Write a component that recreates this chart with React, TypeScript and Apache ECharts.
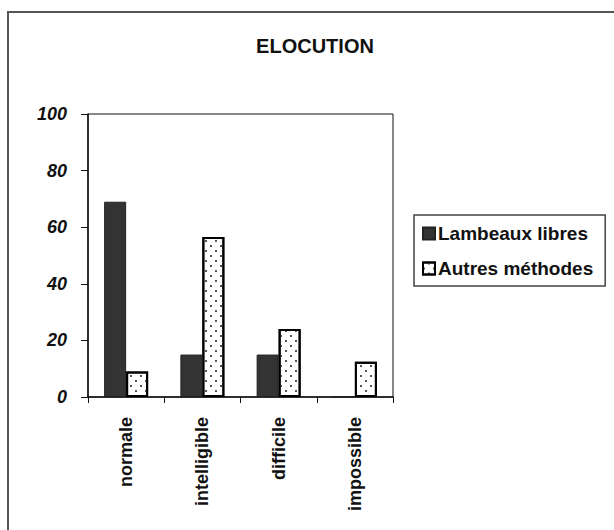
import React, { useEffect, useRef } from "react";
import * as echarts from "echarts";

const categories = ["normale", "intelligible", "difficile", "impossible"];
const lambeauxLibres = [69, 15, 15, 0];
const autresMethodes = [9, 56.5, 24, 12.5];
const yTicks = { min: 0, max: 100, interval: 20 };
const titleText = "ELOCUTION";
const seriesNames = ["Lambeaux libres", "Autres méthodes"];

const FONT = "'Liberation Sans', Arial, sans-serif";

export default function App() {
  const ref = useRef<HTMLDivElement>(null);
  useEffect(() => {
    if (!ref.current) return;
    const chart = echarts.init(ref.current, null, { renderer: "svg" });
    const decal = {
      symbol: "rect",
      symbolSize: 1,
      color: "#555",
      dashArrayX: [[2, 8], [0, 5, 2, 3]],
      dashArrayY: [2, 3],
      rotation: 0,
    };
    chart.setOption({
      animation: false,
      backgroundColor: "#fff",
      graphic: [
        {
          type: "rect",
          shape: { x: 8, y: 12, width: 640, height: 560 },
          style: { fill: "none", stroke: "#555", lineWidth: 2 },
          silent: true,
        },
        {
          type: "text",
          x: 315,
          y: 46,
          style: {
            text: titleText,
            font: `bold 20px ${FONT}`,
            fill: "#111",
            textAlign: "center",
            textVerticalAlign: "middle",
          },
        },
      ],
      legend: {
        orient: "vertical",
        left: 414,
        top: 215,
        padding: [9, 12, 8, 8],
        itemGap: 16,
        itemWidth: 12,
        itemHeight: 12,
        borderColor: "#444",
        borderWidth: 1.5,
        borderRadius: 0,
        icon: "rect",
        textStyle: { fontFamily: FONT, fontWeight: "bold", fontSize: 19, color: "#111", padding: [0, 0, 0, -2] },
        data: [
          { name: seriesNames[0] },
          { name: seriesNames[1] },
        ],
      },
      grid: {
        left: 88,
        top: 114,
        right: 221,
        bottom: 133,
        show: true,
        borderColor: "#111",
        borderWidth: 1,
        backgroundColor: "transparent",
      },
      xAxis: {
        type: "category",
        data: categories,
        axisLine: { lineStyle: { color: "#111", width: 1.5 } },
        axisTick: { show: true, length: 6, lineStyle: { color: "#111" } },
        axisLabel: {
          rotate: 90,
          margin: 20,
          fontFamily: FONT,
          fontWeight: "bold",
          fontSize: 18,
          color: "#111",
        },
      },
      yAxis: {
        type: "value",
        min: yTicks.min,
        max: yTicks.max,
        interval: yTicks.interval,
        splitLine: { show: false },
        axisLine: { show: true, lineStyle: { color: "#111", width: 1.5 } },
        axisTick: { show: true, length: 7, lineStyle: { color: "#111" } },
        axisLabel: {
          margin: 21,
          fontFamily: FONT,
          fontWeight: "bold",
          fontStyle: "italic",
          fontSize: 18,
          color: "#111",
        },
      },
      series: [
        {
          name: seriesNames[0],
          type: "bar",
          data: lambeauxLibres,
          barWidth: 22,
          barGap: "0%",
          itemStyle: { color: "#333", borderColor: "#222", borderWidth: 1 },
        },
        {
          name: seriesNames[1],
          type: "bar",
          data: autresMethodes,
          barWidth: 22,
          barGap: "0%",
          itemStyle: { color: "#fff", borderColor: "#000", borderWidth: 2, decal },
        },
      ],
    });
    return () => chart.dispose();
  }, []);
  return (
    <div
      ref={ref}
      style={{ position: "absolute", left: 0, top: 0, width: 614, height: 530 }}
    />
  );
}
